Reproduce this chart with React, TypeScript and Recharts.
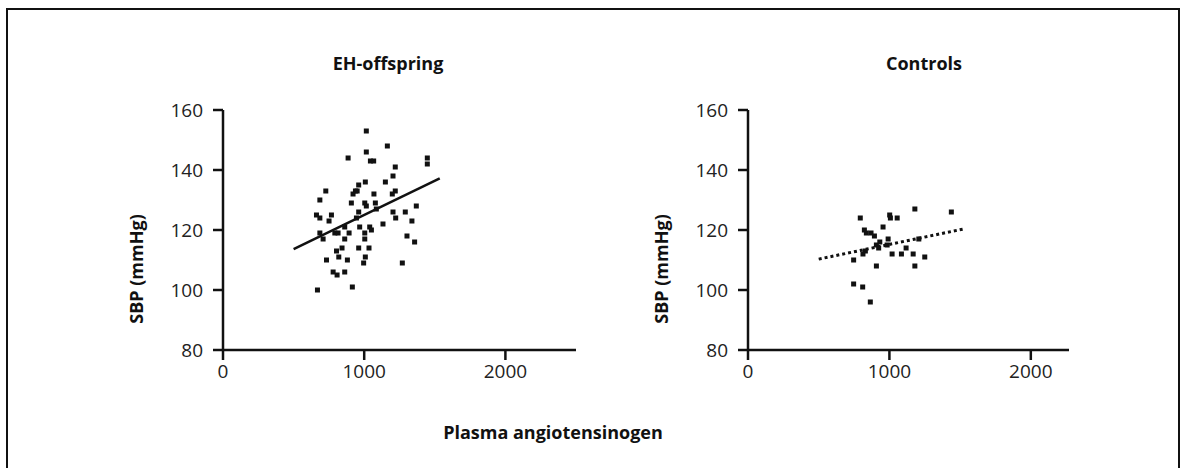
import { ScatterChart, Scatter, XAxis, YAxis, ReferenceLine } from 'recharts'

// EH-offspring: plasma angiotensinogen vs SBP
const ehAgt = [
  1015, 1164, 886, 1015, 1044, 1067, 1447, 1447, 1220, 1204, 1150, 1008, 961, 938, 950, 728, 921, 686,
  1069, 1220, 1199, 909, 1004, 1015, 1079, 1086, 1369, 662, 686, 768, 751, 961, 945, 1204, 1223, 1291,
  1338, 1133, 968, 1039, 1051, 862, 686, 709, 792, 815, 862, 893, 1004, 1004, 1303, 1357, 804, 843,
  961, 1034, 820, 881, 733, 1008, 996, 1270, 780, 808, 862, 916, 669,
]
const ehSbp = [
  153, 148, 144, 146, 143, 143, 144, 142, 141, 138, 136, 136, 135, 133, 133, 133, 132, 130,
  132, 133, 132, 129, 129, 128, 129, 127, 128, 125, 124, 125, 123, 126, 124, 126, 124, 126,
  123, 122, 121, 121, 120, 121, 119, 117, 119, 119, 117, 119, 119, 117, 118, 116, 113, 114,
  114, 114, 111, 110, 110, 111, 109, 109, 106, 105, 106, 101, 100,
]

// Controls
const ctrlAgt = [
  1180, 1438, 794, 1002, 1007, 1055, 955, 823, 837, 870, 894, 991, 1208, 908, 932, 984, 924, 830,
  813, 1019, 1085, 1118, 1168, 1250, 747, 908, 1180, 747, 811, 865,
]
const ctrlSbp = [
  127, 126, 124, 125, 124, 124, 121, 120, 119, 119, 118, 117, 117, 115, 116, 115, 114, 113,
  112, 112, 112, 114, 112, 111, 110, 108, 108, 102, 101, 96,
]

// regression lines (end points)
const ehFit = [{ x: 500, y: 113.6 }, { x: 1535, y: 137.2 }]
const ctrlFit = [{ x: 500, y: 110.3 }, { x: 1520, y: 120.3 }]

const xTicks = [0, 1000, 2000]
const yTicks = [80, 100, 120, 140, 160]

const ehData = ehAgt.map((x, i) => ({ x, y: ehSbp[i] }))
const ctrlData = ctrlAgt.map((x, i) => ({ x, y: ctrlSbp[i] }))

const INK = '#111'

const Square = (props: any) => (
  <rect x={props.cx - 2.5} y={props.cy - 2.5} width={5} height={5} fill={INK} />
)

function Panel({ data, fit, xMax, dotted, left, marginLeft }: any) {
  const axisProps = {
    axisLine: { stroke: INK, strokeWidth: 2.5 },
    tickLine: { stroke: INK, strokeWidth: 2.5 },
    tickSize: 10,
    tick: { fill: '#222', fontSize: 19 },
  }
  const plotW = Math.round(xMax * 0.1413)
  return (
    <div style={{ position: 'absolute', left, top: 0 }}>
      <ScatterChart
        width={600}
        height={468}
        margin={{ top: 110, right: 600 - marginLeft - 60 - plotW, bottom: 88, left: marginLeft }}
      >
        <XAxis
          type="number"
          dataKey="x"
          domain={[0, xMax]}
          ticks={xTicks}
          height={30}
          tickMargin={5}
          allowDataOverflow
          {...axisProps}
        />
        <YAxis
          type="number"
          dataKey="y"
          domain={[80, 160]}
          ticks={yTicks}
          width={60}
          tickMargin={10}
          allowDataOverflow
          {...axisProps}
        />
        <ReferenceLine
          segment={fit}
          stroke={INK}
          strokeWidth={dotted ? 3 : 2.5}
          strokeDasharray={dotted ? '3 3' : undefined}
        />
        <Scatter data={data} shape={Square} isAnimationActive={false} />
      </ScatterChart>
    </div>
  )
}

export default function App() {
  return (
    <div
      style={{
        position: 'absolute',
        left: 0,
        top: 0,
        width: 1181,
        height: 468,
        overflow: 'hidden',
        background: '#fff',
        fontFamily: '"Open Sans", "Noto Sans", sans-serif',
      }}
    >
      {/* frame */}
      <div
        style={{
          position: 'absolute',
          left: 6,
          top: 8,
          width: 1174,
          height: 480,
          border: `2px solid ${INK}`,
          boxSizing: 'border-box',
        }}
      />

      <Panel data={ehData} fit={ehFit} xMax={2500} left={0} marginLeft={163} />
      <Panel data={ctrlData} fit={ctrlFit} xMax={2270} dotted left={600} marginLeft={88} />

      {/* titles and axis titles */}
      <svg
        width={1181}
        height={468}
        style={{ position: 'absolute', left: 0, top: 0, pointerEvents: 'none' }}
      >
        <g fontWeight={700} fontSize={18} fill={INK} textAnchor="middle" dominantBaseline="central">
          <text x={388} y={63}>EH-offspring</text>
          <text x={924} y={63}>Controls</text>
          <text x={553} y={432}>Plasma angiotensinogen</text>
          <text transform="translate(136 269) rotate(-90)">SBP (mmHg)</text>
          <text transform="translate(661 269) rotate(-90)">SBP (mmHg)</text>
        </g>
      </svg>
    </div>
  )
}
